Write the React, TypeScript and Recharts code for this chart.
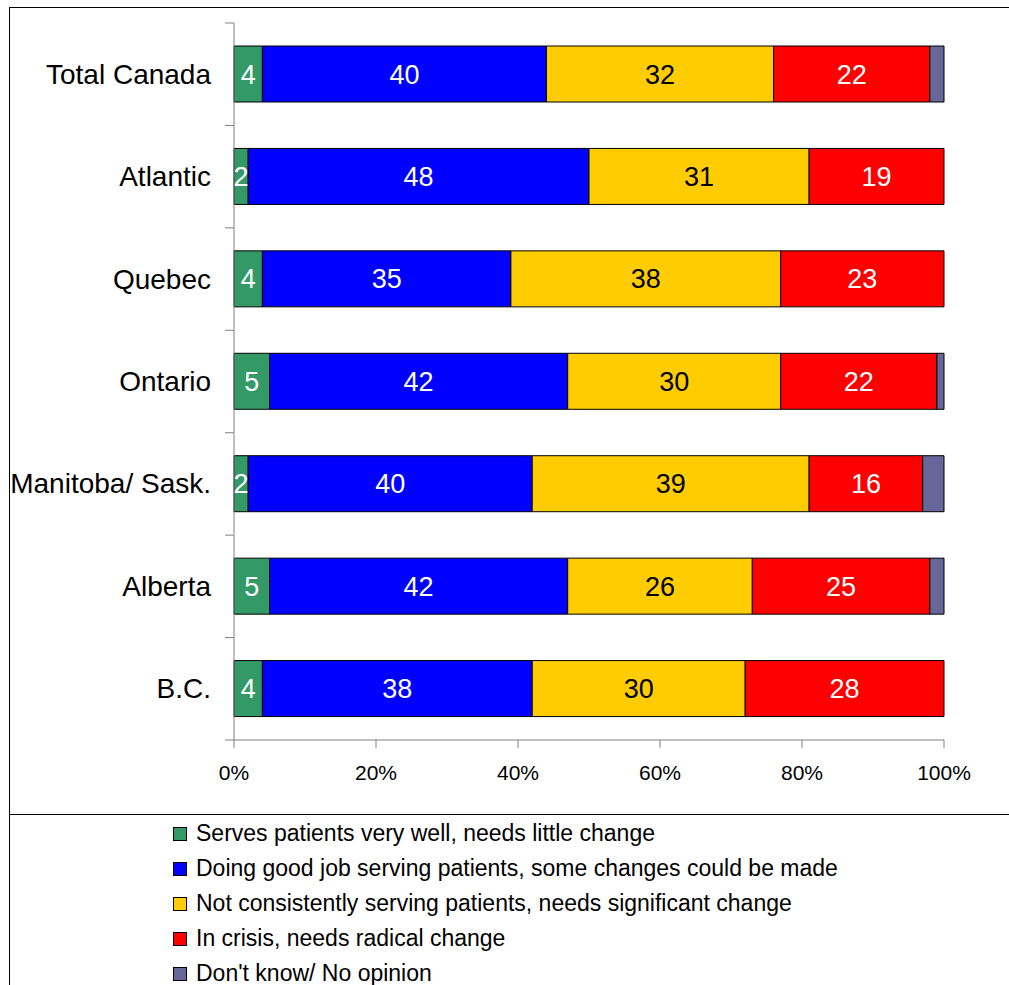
import React from "react";
import { Bar, BarChart, LabelList, XAxis, YAxis } from "recharts";

const categories = ["Total Canada", "Atlantic", "Quebec", "Ontario", "Manitoba/ Sask.", "Alberta", "B.C."];
const servesWell = [4, 2, 4, 5, 2, 5, 4];
const doingGood = [40, 48, 35, 42, 40, 42, 38];
const notConsistent = [32, 31, 38, 30, 39, 26, 30];
const inCrisis = [22, 19, 23, 22, 16, 25, 28];
const dontKnow = [2, 0, 0, 1, 3, 2, 0];
const xTicks = [0, 20, 40, 60, 80, 100];

const series = [
  { key: "serves", name: "Serves patients very well, needs little change", values: servesWell, color: "#339966", text: "#fff", label: true },
  { key: "good", name: "Doing good job serving patients, some changes could be made", values: doingGood, color: "#0000FF", text: "#fff", label: true },
  { key: "notcons", name: "Not consistently serving patients, needs significant change", values: notConsistent, color: "#FFCC00", text: "#000", label: true },
  { key: "crisis", name: "In crisis, needs radical change", values: inCrisis, color: "#FF0000", text: "#fff", label: true },
  { key: "dk", name: "Don't know/ No opinion", values: dontKnow, color: "#666699", text: "#fff", label: false },
];

const data = categories.map((name, i) => {
  const row: Record<string, string | number> = { name };
  series.forEach((s) => (row[s.key] = s.values[i]));
  return row;
});

const FONT = "'Liberation Sans', Arial, sans-serif";
const CHART_H = 815;
const PLOT_TOP = 23;
const PLOT_BOTTOM = 740;
const BAND = (PLOT_BOTTOM - PLOT_TOP) / categories.length;

const CategoryTick = (props: any) => {
  const { x, y, payload, index } = props;
  return (
    <g>
      <text x={x - 23} y={y} textAnchor="end" dominantBaseline="central" fontSize={28} fill="#000" fontFamily={FONT}>
        {payload.value}
      </text>
      <line x1={x - 9} x2={x} y1={y - BAND / 2} y2={y - BAND / 2} stroke="#808080" />
      {index === categories.length - 1 && (
        <line x1={x - 9} x2={x} y1={y + BAND / 2} y2={y + BAND / 2} stroke="#808080" />
      )}
    </g>
  );
};

export default function App() {
  return (
    <div style={{ position: "absolute", left: 0, top: 0, width: 1009, height: 985, overflow: "hidden", background: "#fff", fontFamily: FONT }}>
      <div style={{ position: "absolute", left: 9, top: 7, width: 1010, height: CHART_H - 7, border: "1px solid #000", boxSizing: "border-box" }} />
      <div style={{ position: "absolute", left: 9, top: CHART_H - 1, width: 1010, height: 200, border: "1px solid #000", boxSizing: "border-box" }} />
      <div style={{ position: "absolute", left: 0, top: 0 }}>
        <BarChart
          width={1009}
          height={CHART_H}
          data={data}
          layout="vertical"
          margin={{ top: PLOT_TOP, right: 65, bottom: 45, left: 0 }}
        >
          <XAxis
            type="number"
            domain={[0, 100]}
            ticks={xTicks}
            tickFormatter={(v) => `${v}%`}
            axisLine={{ stroke: "#808080" }}
            tickLine={{ stroke: "#808080" }}
            tickSize={8}
            tickMargin={17}
            height={30}
            tick={{ fontSize: 21, fill: "#000", fontFamily: FONT }}
          />
          <YAxis
            type="category"
            dataKey="name"
            width={234}
            axisLine={{ stroke: "#808080" }}
            tickLine={false}
            tickSize={0}
            tickMargin={0}
            tick={<CategoryTick />}
          />
          {series.map((s) => (
            <Bar key={s.key} dataKey={s.key} name={s.name} stackId="a" fill={s.color} stroke="#000" strokeWidth={1} barSize={56} isAnimationActive={false}>
              {s.label && (
                <LabelList
                  dataKey={s.key}
                  position="center"
                  fill={s.text}
                  fontSize={27}
                  fontFamily={FONT}
                  formatter={(v: any) => (v > 0 ? v : "")}
                />
              )}
            </Bar>
          ))}
        </BarChart>
      </div>
      <div style={{ position: "absolute", left: 173, top: 816 }}>
        {series.map((s) => (
          <div key={s.key} style={{ display: "flex", alignItems: "center", height: 35, fontSize: 23, color: "#000", whiteSpace: "nowrap" }}>
            <span style={{ display: "inline-block", width: 12, height: 12, background: s.color, border: "1px solid #000", marginRight: 9, flexShrink: 0 }} />
            {s.name}
          </div>
        ))}
      </div>
    </div>
  );
}
